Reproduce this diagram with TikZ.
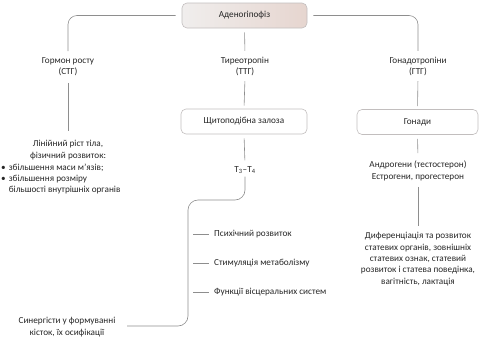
\documentclass[tikz,border=0pt]{standalone}
\usepackage{fontspec}
\setmainfont{Carlito}
\begin{document}
\begin{tikzpicture}[x=1pt,y=-1pt,
  every node/.style={font=\fontsize{9.2}{11.3}\selectfont, text=txt, inner sep=2pt},
  lbl/.style={align=center},
  boxw/.style={draw=boxb, line width=0.6pt, fill=white, rounded corners=5pt, minimum height=25pt, align=center},
  link/.style={draw=linec, line width=0.6pt},
]
\definecolor{txt}{HTML}{262626}
\definecolor{linec}{HTML}{8E8E8E}
\definecolor{boxb}{HTML}{C2BEBE}
\definecolor{topl}{HTML}{F0EEED}
\definecolor{topr}{HTML}{E6D5CF}
\useasboundingbox (0,0) rectangle (485,338);

% nodes
\node[boxw, left color=topl, right color=topr, minimum width=125pt] (top) at (244.5,15.5) {Аденогіпофіз};
\node[lbl] (stg) at (68,66.5) {Гормон росту\\(СТГ)};
\node[lbl] (ttg) at (245,66.5) {Тиреотропін\\(ТТГ)};
\node[lbl] (gtg) at (418,66.5) {Гонадотропіни\\(ГТГ)};
\node[boxw, minimum width=126pt] (thy) at (244,121.5) {Щитоподібна залоза};
\node[boxw, minimum width=121pt] (gon) at (417.5,122) {Гонади};
\node[lbl] (t34) at (245,170) {T\textsubscript{3}–T\textsubscript{4}};
\node[lbl] (gr1) at (68,150) {Лінійний ріст тіла,\\фізичний розвиток:};
\node[anchor=north west, align=left, inner sep=0pt] (gr2) at (1,162) {%
  \begin{tabular}{@{}l@{\hspace{3pt}}l@{}}
  •& збільшення маси м’язів;\\
  •& збільшення розміру\\
   & більшості внутрішніх органів
  \end{tabular}};
\node[lbl] (hor) at (418,171) {Андрогени (тестостерон)\\Естрогени, прогестерон};
\node[lbl] (sex) at (418,259) {Диференціація та розвиток\\статевих органів, зовнішніх\\статевих ознак, статевий\\розвиток і статева поведінка,\\вагітність, лактація};
\node[anchor=west] (psy) at (212,234) {Психічний розвиток};
\node[anchor=west] (met) at (212,263) {Стимуляція метаболізму};
\node[anchor=west] (vis) at (212,292) {Функції вісцеральних систем};
\node[lbl] (syn) at (67,327) {Синергісти у формуванні\\кісток, їх осифікації};

\coordinate (p1) at (193,234);
\coordinate (p2) at (193,263);
\coordinate (p3) at (193,292);
\coordinate (bend) at (188,200);
\coordinate (bend2) at (188,326);
\coordinate (bend3) at (127,326);

% connectors
\draw[link, rounded corners=9pt, shorten <=6pt, shorten >=4pt] (top.west) -| (stg.north);
\draw[link, rounded corners=9pt, shorten <=6pt, shorten >=4pt] (top.east) -| (gtg.north);
\draw[link, shorten <=4pt, shorten >=4pt] (top.south) -- (ttg.north);
\draw[link, shorten <=5pt, shorten >=7pt] (stg.south) -- (gr1.north);
\draw[link, shorten <=3pt, shorten >=3pt] (ttg.south) -- (thy.north);
\draw[link, shorten <=3pt, shorten >=3pt] (gtg.south) -- (gon.north);
\draw[link, shorten <=4pt, shorten >=4pt] (thy.south) -- (t34.north);
\draw[link, shorten <=4pt, shorten >=6pt] (gon.south) -- (hor.north);
\draw[link, shorten <=4pt, shorten >=4pt] (hor.south) -- (sex.north);
\draw[link, rounded corners=10pt, shorten <=1pt] (t34.south) |- (bend) -- (bend2) -- (bend3);
\draw[link, shorten >=3pt] (p1) -- (psy.west);
\draw[link, shorten >=3pt] (p2) -- (met.west);
\draw[link, shorten >=3pt] (p3) -- (vis.west);
\end{tikzpicture}
\end{document}
